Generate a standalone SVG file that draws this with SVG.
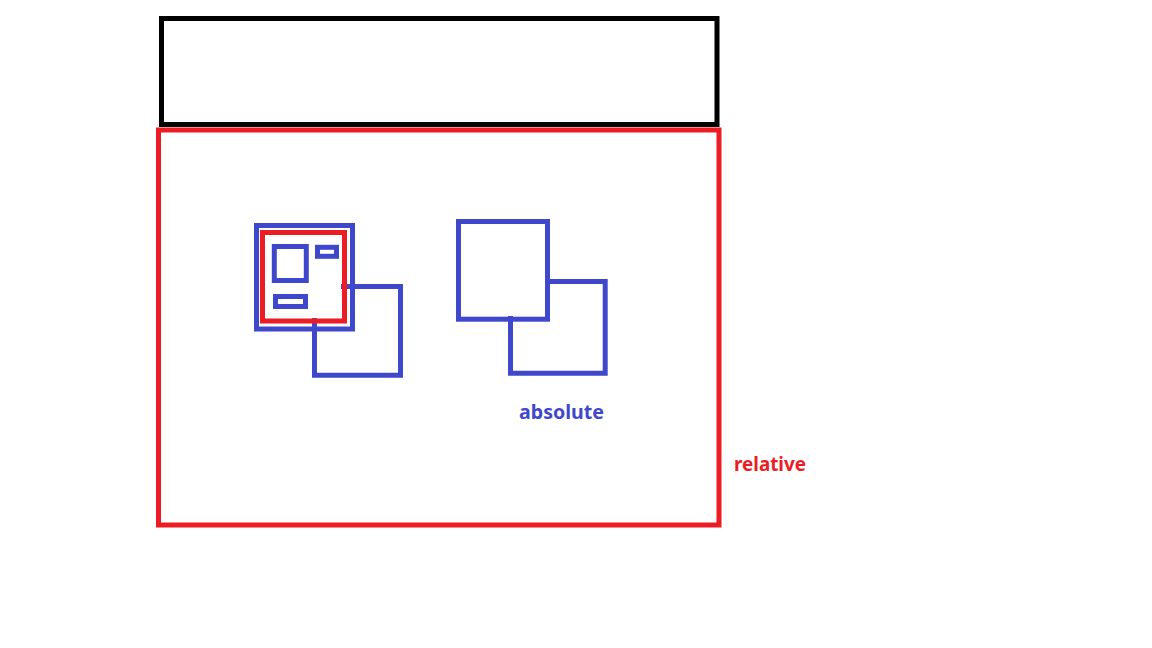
<svg xmlns="http://www.w3.org/2000/svg" width="1152" height="648" viewBox="0 0 1152 648">
<style>
.k{fill:none;stroke:#000;stroke-width:5}
.r{fill:none;stroke:#ED1C24;stroke-width:5}
.b{fill:none;stroke:#3F48CC;stroke-width:5}
.t{font-family:"Noto Sans","Liberation Sans",sans-serif;font-weight:bold;font-size:19px}
</style>
<rect width="1152" height="648" fill="#fff"/>
<g id="header"><rect class="k" x="161.5" y="18.5" width="555.5" height="106"/></g>
<g id="relative-container"><rect class="r" x="158.5" y="130" width="560.5" height="395"/></g>
<g id="left-group">
<path class="b" d="M341,286.5 H400.5 V375.3 H314.5 V318"/>
<rect class="b" x="256.5" y="225.5" width="96" height="103.5"/>
<rect class="r" x="262.5" y="232.5" width="82" height="88.5"/>
<rect class="b" x="274.3" y="246.5" width="32" height="34" stroke-width="4.7"/>
<rect class="b" x="317.5" y="247.3" width="19" height="9" stroke-width="4.7"/>
<rect class="b" x="275.5" y="296.5" width="30" height="10" stroke-width="4.7"/>
</g>
<g id="right-group">
<rect class="b" x="458.5" y="221.5" width="89" height="97.7"/>
<path class="b" d="M547.5,281.5 H605.2 V373.2 H510.5 V316"/>
</g>
<g id="labels">
<text class="t" x="519" y="419" fill="#3F48CC" textLength="85" lengthAdjust="spacingAndGlyphs">absolute</text>
<text class="t" x="734" y="471" fill="#ED1C24" textLength="72" lengthAdjust="spacingAndGlyphs">relative</text>
</g>
</svg>
